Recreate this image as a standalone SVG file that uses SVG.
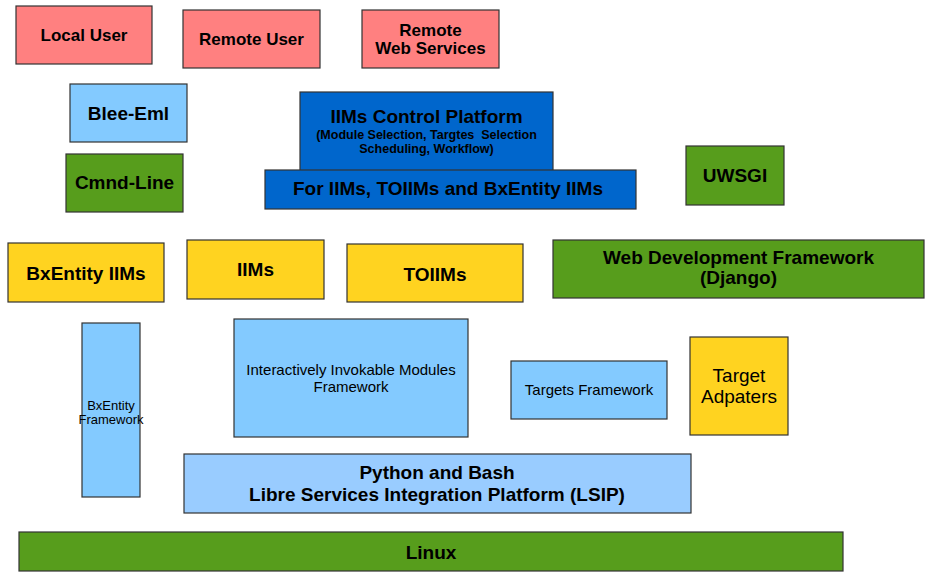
<svg xmlns="http://www.w3.org/2000/svg" width="926" height="573" viewBox="0 0 926 573">
<style>
rect{stroke:#333;stroke-width:1.2}
.red{fill:#FF8080}.lb{fill:#83CAFF}.lb2{fill:#99CCFF}.gr{fill:#579D1C}.ye{fill:#FFD320}.bl{fill:#0066CC}
text{font-family:"Liberation Sans",Arial,sans-serif;text-anchor:middle;fill:#000}
.b17{font-weight:bold;font-size:17px}
.b19{font-weight:bold;font-size:19px}
.b11{font-weight:bold;font-size:12.5px}
.n15{font-size:15px}
.n13{font-size:13px}
.n19{font-size:19px}
</style>
<rect width="926" height="573" fill="#fff" style="stroke:none"/>
<g id="local-user"><rect class="red" x="16" y="6" width="136" height="58"/><text class="b17" x="84" y="41">Local User</text></g>
<g id="remote-user"><rect class="red" x="183" y="10" width="137" height="58"/><text class="b17" x="251.5" y="45">Remote User</text></g>
<g id="remote-web-services"><rect class="red" x="362" y="10" width="137" height="58"/><text class="b17" x="430.5" y="36">Remote</text><text class="b17" x="430.5" y="54">Web Services</text></g>
<g id="blee-eml"><rect class="lb" x="70" y="84" width="117" height="58"/><text class="b19" x="128.5" y="119.5">Blee-Eml</text></g>
<g id="cmnd-line"><rect class="gr" x="66" y="154" width="117" height="58"/><text class="b19" x="124.5" y="189">Cmnd-Line</text></g>
<g id="iims-control-platform"><rect class="bl" x="300" y="92" width="253" height="80"/><text class="b19" x="426.5" y="123">IIMs Control Platform</text><text class="b11" x="426.5" y="139" xml:space="preserve">(Module Selection, Targtes  Selection</text><text class="b11" x="426.5" y="153">Scheduling, Workflow)</text></g>
<g id="for-iims"><rect class="bl" x="265" y="170" width="371" height="39"/><text class="b19" x="448" y="195">For IIMs, TOIIMs and BxEntity IIMs</text></g>
<g id="uwsgi"><rect class="gr" x="686" y="146" width="98" height="59"/><text class="b19" x="735" y="181.5">UWSGI</text></g>
<g id="web-dev-framework"><rect class="gr" x="553" y="240" width="371" height="58"/><text class="b19" x="738.5" y="263.5">Web Development Framework</text><text class="b19" x="738.5" y="284">(Django)</text></g>
<g id="bxentity-iims"><rect class="ye" x="8" y="243" width="156" height="59"/><text class="b19" x="86" y="280">BxEntity IIMs</text></g>
<g id="iims"><rect class="ye" x="187" y="240" width="137" height="59"/><text class="b19" x="255.5" y="275.5">IIMs</text></g>
<g id="toiims"><rect class="ye" x="347" y="244" width="176" height="58"/><text class="b19" x="435" y="280.5">TOIIMs</text></g>
<g id="bxentity-framework"><rect class="lb" x="82" y="323" width="58" height="174"/><text class="n13" x="111" y="410">BxEntity</text><text class="n13" x="111" y="423.5">Framework</text></g>
<g id="iim-framework"><rect class="lb" x="234" y="319" width="234" height="118"/><text class="n15" x="351" y="374.5">Interactively Invokable Modules</text><text class="n15" x="351" y="391.5">Framework</text></g>
<g id="targets-framework"><rect class="lb" x="511" y="361" width="156" height="58"/><text class="n15" x="589" y="395">Targets Framework</text></g>
<g id="target-adapters"><rect class="ye" x="690" y="337" width="98" height="98"/><text class="n19" x="739" y="382">Target</text><text class="n19" x="739" y="403">Adpaters</text></g>
<g id="lsip"><rect class="lb2" x="184" y="454" width="507" height="59"/><text class="b19" x="437" y="479">Python and Bash</text><text class="b19" x="437" y="501">Libre Services Integration Platform (LSIP)</text></g>
<g id="linux"><rect class="gr" x="19" y="532" width="824" height="39"/><text class="b19" x="431" y="558.5">Linux</text></g>
<g id="connectors"></g>
</svg>
